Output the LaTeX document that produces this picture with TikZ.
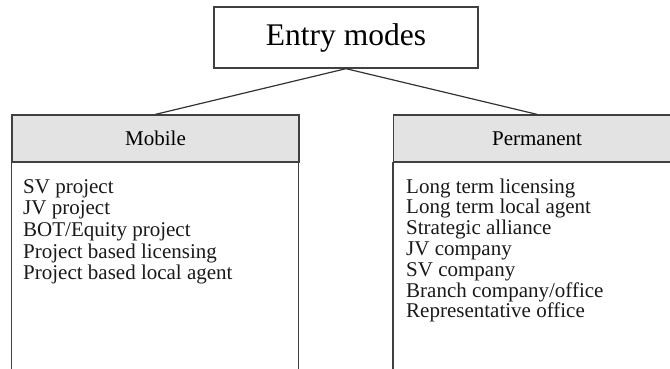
\documentclass[tikz,border=0pt]{standalone}
\usepackage{fontspec}
\setmainfont{Liberation Serif}
\usetikzlibrary{positioning}

\begin{document}
\begin{tikzpicture}[x=1pt,y=1pt]
\tikzstyle{box}=[draw=black!75, line width=1.3pt]
\tikzstyle{title}=[box, minimum width=264pt, minimum height=61pt, font=\fontsize{31.5}{34}\selectfont]
\tikzstyle{head}=[box, fill=black!11, minimum width=287pt, minimum height=47pt, font=\fontsize{21}{23}\selectfont]
\tikzstyle{item}=[anchor=base west, inner sep=0pt, text=black!90, font=\fontsize{21}{23}\selectfont]
\tikzstyle{link}=[draw=black!80, line width=1.2pt]

\useasboundingbox (0,0) rectangle (670,-368);
\clip (0,0) rectangle (670,-368);

\node[title] (entry) at (346,-37.5) {Entry modes};
\node[head] (mobile) at (155.5,-138.5) {Mobile};
\node[head] (permanent) at (537,-138.5) {Permanent};

\draw[box] (mobile.south west) rectangle ++(287,-260);
\draw[box] (permanent.south west) rectangle ++(287,-260);

\draw[link] (entry.south) -- (mobile.north);
\draw[link] (entry.south) -- (permanent.north);

\foreach \t [count=\i] in {SV project, JV project, BOT/Equity project,
  Project based licensing, Project based local agent}
  \node[item] (m\i) at (23,{-193-21.7*(\i-1)}) {\t};

\foreach \t [count=\i] in {Long term licensing, Long term local agent,
  Strategic alliance, JV company, SV company, Branch company/office,
  Representative office}
  \node[item] (p\i) at (406,{-193-20.8*(\i-1)}) {\t};
\end{tikzpicture}
\end{document}
